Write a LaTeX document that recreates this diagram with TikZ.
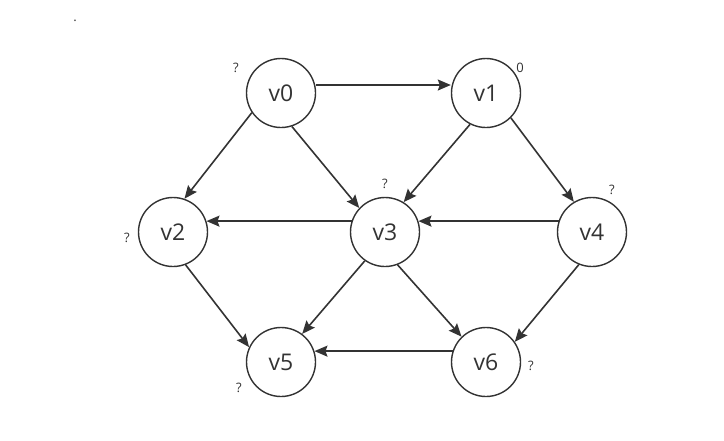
\documentclass[tikz,border=0pt]{standalone}
\usepackage{fontspec}
\setmainfont{Open Sans}
\usetikzlibrary{arrows.meta}
\definecolor{ink}{HTML}{333333}
\begin{document}
\begin{tikzpicture}[x=1pt,y=-1pt,
  vtx/.style={circle,draw=ink,line width=1.4pt,minimum size=69pt,inner sep=0pt,font=\fontsize{23}{26}\selectfont,text=ink},
  lab/.style={font=\fontsize{13}{15}\selectfont,text=ink},
  edge/.style={draw=ink,line width=1.6pt,-{Stealth[length=13pt,width=11pt,inset=2pt]}}]
\useasboundingbox (0,0) rectangle (724,440);
\node[vtx] (v0) at (281,93) {v0};
\node[vtx] (v1) at (486,93) {v1};
\node[vtx] (v2) at (173,232) {v2};
\node[vtx] (v3) at (385,232) {v3};
\node[vtx] (v4) at (592,232) {v4};
\node[vtx] (v5) at (281,362) {v5};
\node[vtx] (v6) at (486,362) {v6};
\node[lab] (l0) at (236,68) {?};
\node[lab] (l1) at (520,68) {0};
\node[lab] (l3) at (385,184) {?};
\node[lab] (l4) at (612,190) {?};
\node[lab] (l2) at (127,238) {?};
\node[lab] (l5) at (239,388) {?};
\node[lab] (l6) at (531,366) {?};
\node[lab] (dot) at (75,21) {.};
\draw[edge] (v0.east |- 0,85) -- (v1.west |- 0,85);
\draw[edge] (v0.214) -- (v2.71);
\draw[edge] (v0.288) -- (v3.137);
\draw[edge] (v1.243) -- (v3.58);
\draw[edge] (v1.315) -- (v4.121);
\draw[edge] (v3.162) -- (v2.18);
\draw[edge] (v4.162) -- (v3.18);
\draw[edge] (v2.291) -- (v5.155);
\draw[edge] (v3.235) -- (v5.53);
\draw[edge] (v3.291) -- (v6.134);
\draw[edge] (v4.248) -- (v6.35);
\draw[edge] (v6.162) -- (v5.18);
\end{tikzpicture}
\end{document}
